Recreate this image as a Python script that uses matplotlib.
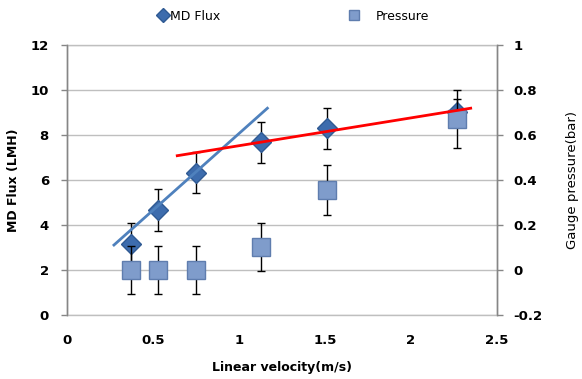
import matplotlib
matplotlib.use("Agg")
import matplotlib.pyplot as plt
from matplotlib.lines import Line2D

# Data
velocity = [0.37, 0.531, 0.748, 1.128, 1.51, 2.265]
md_flux = [3.16, 4.67, 6.33, 7.67, 8.30, 9.04]
md_flux_err = [0.92, 0.92, 0.90, 0.91, 0.92, 0.55]
pressure = [0.0, 0.0, 0.0, 0.104, 0.356, 0.67]
pressure_err = [0.105, 0.105, 0.105, 0.107, 0.11, 0.13]

# Trend lines (endpoints)
trend_blue_x = [0.273, 1.165]
trend_blue_y = [3.11, 9.19]
trend_red_x = [0.641, 2.347]
trend_red_y = [7.08, 9.19]

x_ticks = [0, 0.5, 1, 1.5, 2, 2.5]
x_tick_labels = ["0", "0.5", "1", "1.5", "2", "2.5"]
left_ticks = [0, 2, 4, 6, 8, 10, 12]
right_ticks = [-0.2, 0, 0.2, 0.4, 0.6, 0.8, 1.0]
right_tick_labels = ["-0.2", "0", "0.2", "0.4", "0.6", "0.8", "1"]

DIAMOND = "#3D6CAD"
DIAMOND_EDGE = "#2F5A93"
SQUARE = "#7F9CCB"
SQUARE_EDGE = "#5F7DAE"
GRID = "#BFBFBF"
SPINE = "#868686"

fig = plt.figure(figsize=(5.82, 3.79), dpi=100)
rect = [67/582, 1-315/379, (497-67)/582, (315-45)/379]
ax = fig.add_axes(rect)
ax2 = ax.twinx()

ax.set_xlim(0, 2.5)
ax.set_ylim(0, 12)
ax2.set_ylim(-0.2, 1.0)

ax.set_yticks(left_ticks)
ax.set_xticks(x_ticks)
ax.set_xticklabels(x_tick_labels)
ax2.set_yticks(right_ticks)
ax2.set_yticklabels(right_tick_labels)

ax.grid(axis="y", color=GRID, linewidth=1.0)
ax.set_axisbelow(True)

for a in (ax, ax2):
    for s in a.spines.values():
        s.set_color(SPINE)
        s.set_linewidth(1.0)
ax.spines["top"].set_color(GRID)
ax.spines["bottom"].set_color(GRID)
ax2.spines["top"].set_visible(False)
ax2.spines["bottom"].set_visible(False)

ax.tick_params(axis="x", length=0, pad=14)
ax.tick_params(axis="y", length=4, width=1, color=SPINE, pad=9)
ax2.tick_params(axis="y", length=4, width=1, color=SPINE, pad=8)
for lbl in ax.get_xticklabels() + ax.get_yticklabels() + ax2.get_yticklabels():
    lbl.set_fontsize(9.5)
    lbl.set_fontweight("bold")

ax.set_xlabel("Linear velocity(m/s)", fontsize=9, fontweight="bold", labelpad=10)
ax.set_ylabel("MD Flux (LMH)", fontsize=9, fontweight="bold")
ax.yaxis.set_label_coords((20-67)/430, 0.5)
ax2.set_ylabel("Gauge pressure(bar)", fontsize=9.5, rotation=90)
ax2.yaxis.set_label_coords((566-67)/430, 0.5)

# Flux series on primary axis
ax.errorbar(velocity, md_flux, yerr=md_flux_err, fmt="none", ecolor="black",
            elinewidth=1.0, capsize=3, capthick=1.0, zorder=3)
ax.plot(velocity, md_flux, linestyle="none", marker="D", markersize=10,
        markerfacecolor=DIAMOND, markeredgecolor=DIAMOND_EDGE, zorder=4)

# Pressure series on secondary axis
ax2.errorbar(velocity, pressure, yerr=pressure_err, fmt="none", ecolor="black",
             elinewidth=1.0, capsize=3, capthick=1.0, zorder=3)
ax2.plot(velocity, pressure, linestyle="none", marker="s", markersize=13,
         markerfacecolor=SQUARE, markeredgecolor=SQUARE_EDGE, zorder=4)

# Trend lines on an overlay axes sharing the flux scale
trend_ax = fig.add_axes(rect, sharex=ax)
trend_ax.set_ylim(0, 12)
trend_ax.patch.set_visible(False)
trend_ax.axis("off")
trend_ax.plot(trend_blue_x, trend_blue_y, color="#4F81BD", linewidth=2.0)
trend_ax.plot(trend_red_x, trend_red_y, color="#FF0000", linewidth=2.0)

# Legend (two entries placed as in the reference)
h_flux = Line2D([], [], linestyle="none", marker="D", markersize=7,
                markerfacecolor=DIAMOND, markeredgecolor=DIAMOND_EDGE, label="MD Flux")
h_pres = Line2D([], [], linestyle="none", marker="s", markersize=7,
                markerfacecolor=SQUARE, markeredgecolor=SQUARE_EDGE, label="Pressure")
fig.legend(handles=[h_flux], loc="center left", bbox_to_anchor=(157/582, 1-16/379),
           frameon=False, fontsize=9, handletextpad=0.05, handlelength=1.0,
           borderaxespad=0, borderpad=0)
fig.legend(handles=[h_pres], loc="center left", bbox_to_anchor=(348/582, 1-16/379),
           frameon=False, fontsize=9, handletextpad=1.2, handlelength=1.0,
           borderaxespad=0, borderpad=0)

fig.savefig("out.png", dpi=100)
